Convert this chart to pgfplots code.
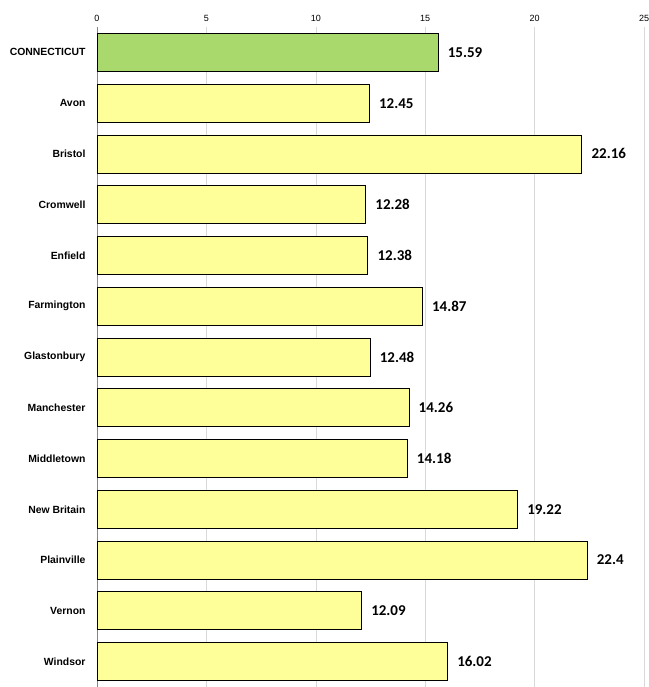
\documentclass[border=0pt]{standalone}
\usepackage{pgfplots}
\pgfplotsset{compat=1.18}
\usepackage{fontspec}
\setmainfont{Liberation Sans}
\newfontfamily\carlito{Carlito}

\definecolor{baryellow}{HTML}{FFFF99}
\definecolor{bargreen}{HTML}{A9D96C}
\definecolor{gridgray}{HTML}{D9D9D9}
\definecolor{axisgray}{HTML}{868686}

% category index, value
\pgfplotstableread{
idx val
0 15.59
}\statetable
\pgfplotstableread{
idx val
1 12.45
2 22.16
3 12.28
4 12.38
5 14.87
6 12.48
7 14.26
8 14.18
9 19.22
10 22.4
11 12.09
12 16.02
}\towntable

\begin{document}
\begin{tikzpicture}
\begin{axis}[
    name=ax,
    scale only axis,
    width=547pt, height=660pt,
    xbar, bar width=38pt, bar shift=0pt,
    xmin=0, xmax=25,
    ymin=-0.5, ymax=12.5,
    y dir=reverse,
    axis x line*=top,
    axis y line*=left,
    x axis line style={draw=none},
    y axis line style={draw=axisgray, line width=0.8pt},
    xtick={0,5,10,15,20,25},
    xmajorgrids=true,
    grid style={gridgray, line width=0.6pt},
    major tick length=0pt,
    ytick={0,...,12},
    yticklabels={CONNECTICUT,Avon,Bristol,Cromwell,Enfield,Farmington,Glastonbury,Manchester,Middletown,New Britain,Plainville,Vernon,Windsor},
    yticklabel style={font=\fontsize{10.4}{12}\selectfont\bfseries, xshift=-8pt},
    xticklabel style={font=\fontsize{9}{10}\selectfont, yshift=2pt},
    /pgf/number format/assume math mode=true,
    nodes near coords,
    every node near coord/.append style={font=\fontsize{15}{18}\selectfont\carlito\bfseries, anchor=west, xshift=6pt, text=black},
]
\addplot[draw=black, line width=0.8pt, fill=bargreen] table[x=val, y=idx] {\statetable};
\addplot[draw=black, line width=0.8pt, fill=baryellow] table[x=val, y=idx] {\towntable};
\end{axis}
\pgfresetboundingbox
\path[use as bounding box] ([xshift=-97pt]ax.south west) rectangle ([xshift=5pt, yshift=27pt]ax.north east);
\end{tikzpicture}
\end{document}
